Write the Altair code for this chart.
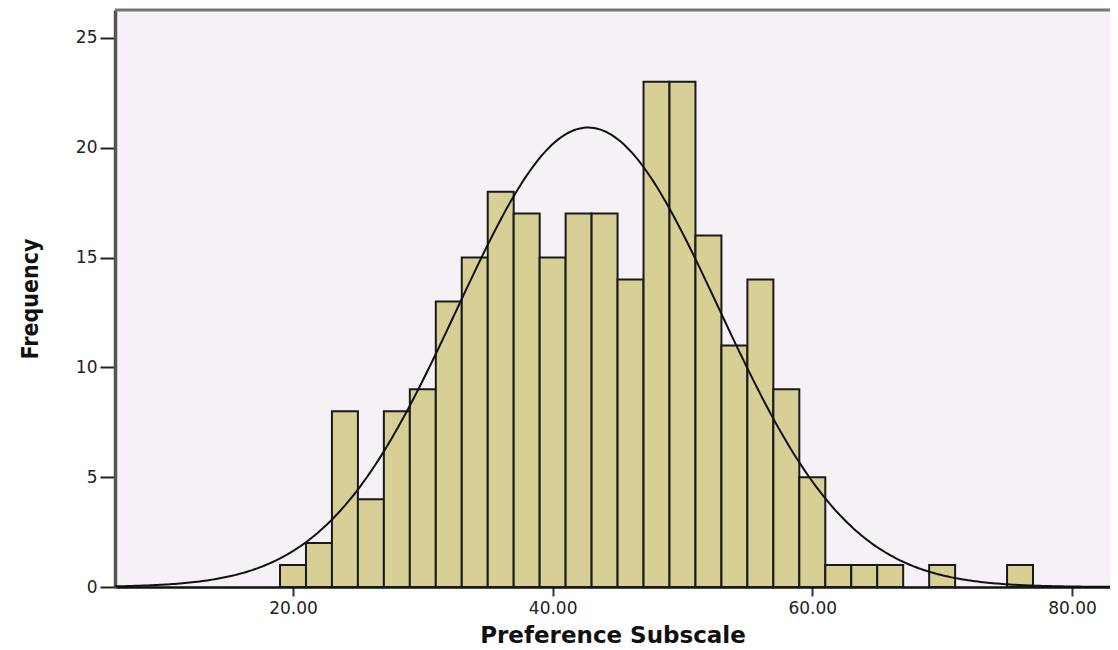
import altair as alt
import numpy as np
import pandas as pd

# Histogram bins (bin width 2, centred on even values)
bin_start = [19, 21, 23, 25, 27, 29, 31, 33, 35, 37, 39, 41, 43, 45, 47,
             49, 51, 53, 55, 57, 59, 61, 63, 65, 67, 69, 71, 73, 75]
counts = [1, 2, 8, 4, 8, 9, 13, 15, 18, 17, 15, 17, 17, 14, 23,
          23, 16, 11, 14, 9, 5, 1, 1, 1, 0, 1, 0, 0, 1]
bin_width = 2

# Fitted normal curve parameters
fit_mean = 42.73
fit_sd = 10.07

x_ticks = [20, 40, 60, 80]
y_ticks = [0, 5, 10, 15, 20, 25]

X_DOMAIN = [6.29, 82.93]
Y_DOMAIN = [0, 26.27]
W, H = 995, 577

bars = pd.DataFrame({
    "start": bin_start,
    "end": [b + bin_width for b in bin_start],
    "count": counts,
})
bars = bars[bars["count"] > 0]

n_total = sum(counts)
xs = np.linspace(X_DOMAIN[0], X_DOMAIN[1], 400)
ys = n_total * bin_width / (fit_sd * np.sqrt(2 * np.pi)) * np.exp(-0.5 * ((xs - fit_mean) / fit_sd) ** 2)
curve = pd.DataFrame({"x": xs, "y": ys})

xscale = alt.Scale(domain=X_DOMAIN, nice=False, zero=False)
yscale = alt.Scale(domain=Y_DOMAIN, nice=False)

label_font = "DejaVu Sans"

x_axis = alt.Axis(
    values=x_ticks, format=".2f", title="Preference Subscale",
    grid=False, domainColor="#111", domainWidth=2.5,
    tickColor="#333", tickWidth=2, tickSize=9,
    labelFont=label_font, labelFontSize=17, labelColor="#222", labelPadding=4,
    titleFont=label_font, titleFontSize=23, titleFontWeight="bold", titleColor="#111",
    titlePadding=8,
)
y_axis = alt.Axis(
    values=y_ticks, title="Frequency",
    grid=False, domainColor="#555", domainWidth=3.5,
    tickColor="#222", tickWidth=2, tickSize=15,
    labelFont=label_font, labelFontSize=17, labelColor="#222", labelPadding=3,
    titleFont="Liberation Sans Narrow, DejaVu Sans Condensed, Liberation Sans, Arial, sans-serif",
    titleFontSize=23, titleFontWeight="bold", titleColor="#111",
    titlePadding=33,
)

hist = alt.Chart(bars).mark_rect(
    fill="#D7CF96", stroke="#1a1a1a", strokeWidth=2
).encode(
    x=alt.X("start:Q", scale=xscale, axis=x_axis),
    x2="end:Q",
    y=alt.Y("count:Q", scale=yscale, axis=y_axis),
    y2=alt.datum(0),
)

line = alt.Chart(curve).mark_line(color="#111", strokeWidth=2).encode(
    x=alt.X("x:Q", scale=xscale),
    y=alt.Y("y:Q", scale=yscale),
)

top_border = alt.Chart(pd.DataFrame({"v": [0]})).mark_rule(
    color="#777", strokeWidth=3
).encode(x=alt.value(0), x2=alt.value(W), y=alt.value(0))

chart = alt.layer(hist, line, top_border).properties(
    width=W, height=H,
    autosize=alt.AutoSizeParams(type="none"),
    padding={"left": 107, "top": 2, "right": 0, "bottom": 60},
    background="white",
).configure_view(
    stroke=None, fill="#F6F1F6"
)

chart.save("out.html", embed_options={"renderer": "svg", "actions": False})
